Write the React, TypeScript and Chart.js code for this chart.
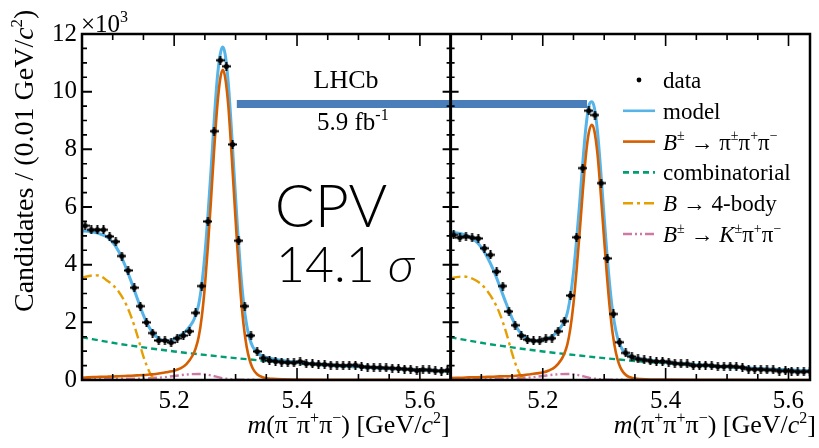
import React, { useEffect, useRef } from "react";
import { Chart, registerables } from "chart.js";

Chart.register(...registerables);

// ---------------- axis / layout constants ----------------
const X_MIN = 5.05;
const X_MAX_LEFT = 5.65;
const X_MAX_RIGHT = 5.635;
const PANEL_SHIFT = X_MAX_LEFT - X_MIN; // right panel drawn after the left one
const Y_MIN = 0;
const Y_MAX = 12;
const Y_LABEL_STEP = 2;
const Y_MINOR_STEP = 0.5;
const X_TICK_LABELS = [5.2, 5.4, 5.6];
const X_MINOR_TICKS = [5.1, 5.15, 5.2, 5.25, 5.3, 5.35, 5.4, 5.45, 5.5, 5.55, 5.6];

// ---------------- data (x 10^3 candidates per 0.01 GeV) ----------------
const BIN_START = 5.055;
const BIN_WIDTH = 0.01;

const DATA_LEFT = [
  5.35, 5.21, 5.21, 5.21, 4.98, 4.8, 4.3, 3.8, 3.2, 2.56,
  2.0, 1.63, 1.37, 1.37, 1.3, 1.45, 1.54, 1.69, 2.33, 3.26,
  5.5, 8.63, 11.09, 10.88, 8.17, 4.83, 2.56, 1.54, 0.99, 0.76,
  0.68, 0.65, 0.62, 0.61, 0.6, 0.64, 0.57, 0.56, 0.55, 0.54,
  0.52, 0.51, 0.5, 0.51, 0.52, 0.47, 0.45, 0.44, 0.43, 0.42,
  0.41, 0.4, 0.38, 0.37, 0.33, 0.36, 0.35, 0.32, 0.31, 0.34,
];

const DATA_RIGHT = [
  5.03, 4.94, 4.98, 4.94, 4.91, 4.57, 4.34, 3.76, 3.26, 2.38,
  1.9, 1.54, 1.4, 1.36, 1.36, 1.43, 1.45, 1.69, 2.04, 2.93,
  4.95, 7.35, 9.34, 9.19, 6.83, 4.22, 2.29, 1.31, 0.94, 0.81,
  0.73, 0.7, 0.66, 0.64, 0.65, 0.62, 0.58, 0.56, 0.56, 0.5,
  0.5, 0.52, 0.5, 0.47, 0.47, 0.48, 0.46, 0.44, 0.38, 0.37,
  0.37, 0.35, 0.35, 0.31, 0.32, 0.31, 0.28, 0.29, 0.3,
];

// model and signal curves, left panel (B- like)
const CURVE_X_LEFT = [
  5.05, 5.06, 5.07, 5.08, 5.09, 5.1, 5.11, 5.12, 5.13, 5.14, 5.15, 5.16, 5.17, 5.18, 5.19,
  5.2, 5.21, 5.22, 5.23, 5.235, 5.24, 5.245, 5.25, 5.255, 5.26, 5.265, 5.27, 5.275, 5.279,
  5.283, 5.288, 5.293, 5.298, 5.303, 5.308, 5.313, 5.318, 5.323, 5.328, 5.335, 5.345,
  5.36, 5.38, 5.4, 5.45, 5.5, 5.55, 5.6, 5.65,
];
const MODEL_LEFT = [
  5.17, 5.16, 5.12, 5.06, 4.97, 4.78, 4.45, 3.98, 3.42, 2.83, 2.25, 1.8, 1.52, 1.38, 1.35,
  1.42, 1.55, 1.72, 2.0, 2.25, 2.63, 3.32, 4.35, 5.72, 7.27, 8.95, 10.42, 11.3, 11.55,
  11.3, 10.33, 8.78, 7.02, 5.32, 3.82, 2.68, 1.91, 1.43, 1.15, 0.95, 0.82,
  0.74, 0.67, 0.62, 0.53, 0.46, 0.4, 0.35, 0.31,
];
const SIGNAL_LEFT = [
  0.08, 0.09, 0.1, 0.11, 0.115, 0.12, 0.13, 0.14, 0.15, 0.16, 0.17, 0.19, 0.21, 0.24, 0.28,
  0.32, 0.4, 0.55, 0.85, 1.1, 1.5, 2.2, 3.25, 4.65, 6.25, 7.95, 9.45, 10.45, 10.76,
  10.5, 9.55, 8.0, 6.25, 4.55, 3.05, 1.92, 1.15, 0.68, 0.4, 0.2, 0.09,
  0.04, 0.02, 0.015, 0.008, 0.005, 0.003, 0.001, 0,
];

// model and signal curves, right panel (B+ like)
const CURVE_X_RIGHT = [
  5.05, 5.06, 5.07, 5.08, 5.09, 5.1, 5.11, 5.12, 5.13, 5.14, 5.15, 5.16, 5.17, 5.18, 5.19,
  5.2, 5.21, 5.22, 5.23, 5.235, 5.24, 5.245, 5.25, 5.255, 5.26, 5.265, 5.27, 5.275, 5.28,
  5.284, 5.289, 5.294, 5.299, 5.304, 5.309, 5.314, 5.319, 5.324, 5.329, 5.336, 5.346,
  5.36, 5.38, 5.4, 5.45, 5.5, 5.55, 5.6, 5.65,
];
const MODEL_RIGHT = [
  5.12, 5.1, 5.06, 4.98, 4.83, 4.6, 4.25, 3.8, 3.25, 2.68, 2.15, 1.74, 1.5, 1.38, 1.35,
  1.38, 1.46, 1.6, 1.85, 2.03, 2.33, 2.9, 3.73, 4.85, 6.12, 7.5, 8.72, 9.5, 9.65,
  9.44, 8.64, 7.36, 5.91, 4.51, 3.28, 2.34, 1.71, 1.31, 1.08, 0.9, 0.79,
  0.73, 0.67, 0.61, 0.53, 0.46, 0.4, 0.35, 0.31,
];
const SIGNAL_RIGHT = [
  0.07, 0.075, 0.08, 0.09, 0.095, 0.1, 0.11, 0.115, 0.125, 0.13, 0.14, 0.155, 0.17, 0.2, 0.23,
  0.26, 0.33, 0.45, 0.7, 0.91, 1.23, 1.8, 2.65, 3.8, 5.1, 6.5, 7.75, 8.58, 8.85,
  8.64, 7.85, 6.58, 5.14, 3.74, 2.51, 1.58, 0.95, 0.56, 0.33, 0.16, 0.07,
  0.03, 0.015, 0.012, 0.007, 0.004, 0.002, 0.001, 0,
];

// combinatorial background (same in both panels)
const COMB_X = [5.05, 5.1, 5.15, 5.2, 5.25, 5.3, 5.35, 5.4, 5.45, 5.5, 5.55, 5.6, 5.65];
const COMB = [1.48, 1.29, 1.13, 0.99, 0.87, 0.76, 0.66, 0.58, 0.5, 0.44, 0.39, 0.34, 0.3];

// partially reconstructed B -> 4-body
const BODY4_X = [5.05, 5.06, 5.07, 5.08, 5.09, 5.1, 5.11, 5.12, 5.13, 5.14, 5.15, 5.155, 5.16, 5.165, 5.17, 5.175];
const BODY4_LEFT = [3.55, 3.6, 3.63, 3.61, 3.46, 3.3, 3.05, 2.7, 2.2, 1.55, 0.81, 0.52, 0.27, 0.09, 0.02, 0];
const BODY4_RIGHT = [3.52, 3.57, 3.59, 3.56, 3.47, 3.32, 3.08, 2.75, 2.3, 1.68, 0.93, 0.6, 0.32, 0.12, 0.03, 0];

// misidentified B -> K pi pi
const KPP_X = [5.05, 5.1, 5.15, 5.18, 5.2, 5.22, 5.24, 5.25, 5.26, 5.27, 5.28, 5.3, 5.32, 5.35];
const KPP = [0.03, 0.04, 0.05, 0.09, 0.14, 0.19, 0.21, 0.2, 0.16, 0.11, 0.06, 0.02, 0.01, 0];

// highlighted band (annotation)
const BAR_X_LEFT = 5.302; // left-panel mass
const BAR_X_RIGHT = 5.272; // right-panel mass
const BAR_Y = 9.57;

// ---------------- styles ----------------
const SERIF = '"Liberation Serif", "Times New Roman", serif';
const SANS = 'Lato, "Open Sans", sans-serif';
const C_MODEL = "#56b4e9";
const C_SIGNAL = "#d55e00";
const C_COMB = "#009e73";
const C_BODY4 = "#e69f00";
const C_KPP = "#cc79a7";
const C_BAR = "#4a7ebb";
const DASH_COMB = [6, 4];
const DASH_BODY4 = [10, 4, 3, 4];
const DASH_KPP = [9, 3, 2, 3, 2, 3];

type Seg = { t: string; it?: boolean; sup?: boolean; dx?: number };

function drawRich(
  ctx: CanvasRenderingContext2D,
  segs: Seg[],
  x: number,
  y: number,
  size: number,
  family: string,
  align: "left" | "right" | "center",
  weight = ""
) {
  const supSize = Math.round(size * 0.62);
  const fontOf = (s: Seg) =>
    `${s.it ? "italic " : ""}${weight ? weight + " " : ""}${s.sup ? supSize : size}px ${family}`;
  let w = 0;
  for (const s of segs) {
    ctx.font = fontOf(s);
    w += ctx.measureText(s.t).width + (s.dx || 0);
  }
  let cx = align === "left" ? x : align === "right" ? x - w : x - w / 2;
  ctx.textAlign = "left";
  ctx.textBaseline = "alphabetic";
  for (const s of segs) {
    ctx.font = fontOf(s);
    cx += s.dx || 0;
    ctx.fillText(s.t, cx, s.sup ? y - size * 0.4 : y);
    cx += ctx.measureText(s.t).width;
  }
}

const LEGEND: { kind: "dot" | "line"; color?: string; dash?: number[]; segs: Seg[] }[] = [
  { kind: "dot", segs: [{ t: "data" }] },
  { kind: "line", color: C_MODEL, dash: [], segs: [{ t: "model" }] },
  {
    kind: "line",
    color: C_SIGNAL,
    dash: [],
    segs: [
      { t: "B", it: true }, { t: "±", sup: true }, { t: " → π" }, { t: "±", sup: true },
      { t: "π" }, { t: "+", sup: true }, { t: "π" }, { t: "−", sup: true },
    ],
  },
  { kind: "line", color: C_COMB, dash: DASH_COMB, segs: [{ t: "combinatorial" }] },
  { kind: "line", color: C_BODY4, dash: DASH_BODY4, segs: [{ t: "B", it: true }, { t: " → 4-body" }] },
  {
    kind: "line",
    color: C_KPP,
    dash: DASH_KPP,
    segs: [
      { t: "B", it: true }, { t: "±", sup: true }, { t: " → " }, { t: "K", it: true },
      { t: "±", sup: true }, { t: "π" }, { t: "+", sup: true }, { t: "π" }, { t: "−", sup: true },
    ],
  },
];

const X_TITLE_LEFT: Seg[] = [
  { t: "m", it: true }, { t: "(π" }, { t: "−", sup: true }, { t: "π" }, { t: "+", sup: true },
  { t: "π" }, { t: "−", sup: true }, { t: ") [GeV/" }, { t: "c", it: true }, { t: "2", sup: true }, { t: "]" },
];
const X_TITLE_RIGHT: Seg[] = [
  { t: "m", it: true }, { t: "(π" }, { t: "+", sup: true }, { t: "π" }, { t: "+", sup: true },
  { t: "π" }, { t: "−", sup: true }, { t: ") [GeV/" }, { t: "c", it: true }, { t: "2", sup: true }, { t: "]" },
];
const Y_TITLE: Seg[] = [
  { t: "Candidates / (0.01 GeV/" }, { t: "c", it: true }, { t: "2", sup: true }, { t: ")" },
];

function pts(xs: number[], ys: number[], shift: number) {
  return xs.map((x, i) => ({ x: x + shift, y: ys[i] }));
}
function binPts(vals: number[], shift: number) {
  return vals.map((v, i) => ({ x: BIN_START + i * BIN_WIDTH + shift, y: v }));
}

function curve(label: string, data: any[], color: string, dash: number[], width: number, order: number) {
  return {
    label,
    data,
    borderColor: color,
    backgroundColor: color,
    borderWidth: width,
    borderDash: dash,
    pointRadius: 0,
    fill: false,
    showLine: true,
    cubicInterpolationMode: "monotone" as const,
    order,
  };
}

export default function App() {
  const ref = useRef<HTMLCanvasElement | null>(null);

  useEffect(() => {
    const canvas = ref.current;
    if (!canvas) return;

    // data marker: dot with small error-bar cross
    const mk = document.createElement("canvas");
    mk.width = 9;
    mk.height = 9;
    const mctx = mk.getContext("2d")!;
    mctx.fillStyle = "#000";
    mctx.fillRect(0, 3.5, 9, 2);
    mctx.fillRect(3.5, 0, 2, 9);
    mctx.beginPath();
    mctx.arc(4.5, 4.5, 2.6, 0, Math.PI * 2);
    mctx.fill();

    const dataSet = (label: string, data: any[]) => ({
      label,
      data,
      showLine: false,
      pointStyle: mk,
      pointRadius: 4.5,
      borderWidth: 0,
      order: 0,
    });

    const overlay = {
      id: "overlay",
      afterDatasetsDraw(chart: any) {
        const { ctx, scales } = chart;
        const xs = scales.x;
        const ys = scales.y;
        ctx.save();
        ctx.strokeStyle = C_BAR;
        ctx.lineWidth = 8;
        ctx.beginPath();
        ctx.moveTo(xs.getPixelForValue(BAR_X_LEFT), ys.getPixelForValue(BAR_Y));
        ctx.lineTo(xs.getPixelForValue(BAR_X_RIGHT + PANEL_SHIFT), ys.getPixelForValue(BAR_Y));
        ctx.stroke();
        ctx.restore();
      },
      afterDraw(chart: any) {
        const { ctx, chartArea: a, scales } = chart;
        const xs = scales.x;
        const ys = scales.y;
        ctx.save();
        ctx.strokeStyle = "#000";
        ctx.fillStyle = "#000";
        // frame
        ctx.lineWidth = 2.5;
        ctx.setLineDash([]);
        ctx.strokeRect(a.left, a.top, a.right - a.left, a.bottom - a.top);
        const mid = xs.getPixelForValue(X_MAX_LEFT);
        ctx.lineWidth = 3;
        ctx.beginPath();
        ctx.moveTo(mid, a.top);
        ctx.lineTo(mid, a.bottom);
        ctx.stroke();

        // x ticks (inward, top and bottom)
        ctx.lineWidth = 1.6;
        for (const shift of [0, PANEL_SHIFT]) {
          for (const t of X_MINOR_TICKS) {
            const px = xs.getPixelForValue(t + shift);
            if (px <= a.left + 1 || px >= a.right - 1) continue;
            const major = X_TICK_LABELS.some((v) => Math.abs(v - t) < 1e-6);
            const len = major ? 12 : 6;
            ctx.beginPath();
            ctx.moveTo(px, a.bottom);
            ctx.lineTo(px, a.bottom - len);
            ctx.moveTo(px, a.top);
            ctx.lineTo(px, a.top + len);
            ctx.stroke();
          }
        }
        // y ticks
        for (let v = Y_MIN + Y_MINOR_STEP; v < Y_MAX - 1e-6; v += Y_MINOR_STEP) {
          const py = ys.getPixelForValue(v);
          const major = Math.abs(v / Y_LABEL_STEP - Math.round(v / Y_LABEL_STEP)) < 1e-6;
          ctx.lineWidth = major ? 2 : 1.6;
          const len = major ? 10 : 5;
          const mlen = major ? 8 : 4;
          ctx.beginPath();
          ctx.moveTo(a.left, py);
          ctx.lineTo(a.left + len, py);
          ctx.moveTo(mid - mlen, py);
          ctx.lineTo(mid + mlen, py);
          ctx.stroke();
        }

        // axis titles
        drawRich(ctx, X_TITLE_LEFT, mid - 1, 433, 26, SERIF, "right");
        drawRich(ctx, X_TITLE_RIGHT, 816, 433, 26, SERIF, "right");
        ctx.save();
        ctx.translate(33, 312);
        ctx.rotate(-Math.PI / 2);
        drawRich(ctx, Y_TITLE, 0, 0, 28, SERIF, "left");
        ctx.restore();
        drawRich(ctx, [{ t: "×10" }, { t: "3", sup: true }], a.left - 1, 32, 25, SERIF, "left");

        // labels
        drawRich(ctx, [{ t: "LHCb" }], 346, 88, 26, SERIF, "center");
        drawRich(ctx, [{ t: "5.9 fb" }, { t: "-1", sup: true }], 317, 130, 25, SERIF, "left");
        drawRich(ctx, [{ t: "CPV" }], 331, 227, 59, SANS, "center", "300");
        drawRich(ctx, [{ t: "14.1" }, { t: "σ", it: true, dx: 13 }], 276, 282, 50, SANS, "left", "300");

        // legend
        const lx0 = 623;
        const lx1 = 655;
        const tx = 663;
        const base0 = 88;
        const dy = 30.8;
        LEGEND.forEach((e, i) => {
          const by = base0 + i * dy;
          const ly = by - 8;
          if (e.kind === "dot") {
            ctx.beginPath();
            ctx.arc((lx0 + lx1) / 2, ly, 2.4, 0, Math.PI * 2);
            ctx.fill();
          } else {
            ctx.save();
            ctx.strokeStyle = e.color!;
            ctx.lineWidth = 2.6;
            ctx.setLineDash(e.dash || []);
            ctx.beginPath();
            ctx.moveTo(lx0, ly);
            ctx.lineTo(lx1, ly);
            ctx.stroke();
            ctx.restore();
          }
          drawRich(ctx, e.segs, tx, by, 23, SERIF, "left");
        });
        ctx.restore();
      },
    };

    const chart = new Chart(canvas, {
      type: "line",
      data: {
        datasets: [
          dataSet("data B-", binPts(DATA_LEFT, 0)),
          dataSet("data B+", binPts(DATA_RIGHT, PANEL_SHIFT)),
          curve("signal B-", pts(CURVE_X_LEFT, SIGNAL_LEFT, 0), C_SIGNAL, [], 2.6, 1),
          curve("signal B+", pts(CURVE_X_RIGHT, SIGNAL_RIGHT, PANEL_SHIFT), C_SIGNAL, [], 2.6, 1),
          curve("model B-", pts(CURVE_X_LEFT, MODEL_LEFT, 0), C_MODEL, [], 3, 2),
          curve("model B+", pts(CURVE_X_RIGHT, MODEL_RIGHT, PANEL_SHIFT), C_MODEL, [], 3, 2),
          curve("comb B-", pts(COMB_X, COMB, 0), C_COMB, DASH_COMB, 2.4, 3),
          curve("comb B+", pts(COMB_X, COMB, PANEL_SHIFT), C_COMB, DASH_COMB, 2.4, 3),
          curve("4body B-", pts(BODY4_X, BODY4_LEFT, 0), C_BODY4, DASH_BODY4, 2.4, 4),
          curve("4body B+", pts(BODY4_X, BODY4_RIGHT, PANEL_SHIFT), C_BODY4, DASH_BODY4, 2.4, 4),
          curve("Kpp B-", pts(KPP_X, KPP, 0), C_KPP, DASH_KPP, 2.4, 5),
          curve("Kpp B+", pts(KPP_X, KPP, PANEL_SHIFT), C_KPP, DASH_KPP, 2.4, 5),
        ] as any,
      },
      options: {
        responsive: false,
        animation: false,
        events: [],
        devicePixelRatio: 1,
        layout: { padding: { left: 0, top: 34, right: 9, bottom: 0 } },
        plugins: { legend: { display: false }, tooltip: { enabled: false } },
        scales: {
          x: {
            type: "linear",
            min: X_MIN,
            max: X_MAX_RIGHT + PANEL_SHIFT,
            grid: { display: false, drawTicks: false, tickLength: 0 },
            border: { display: false },
            afterBuildTicks: (scale: any) => {
              scale.ticks = [
                ...X_TICK_LABELS.map((v) => ({ value: v })),
                ...X_TICK_LABELS.map((v) => ({ value: v + PANEL_SHIFT })),
              ];
            },
            afterFit: (scale: any) => {
              scale.height = 68;
            },
            ticks: {
              autoSkip: false,
              maxRotation: 0,
              padding: 6,
              color: "#000",
              font: { family: SERIF, size: 25 },
              callback: (value: any) => {
                const v = Number(value);
                const m = v >= X_MAX_LEFT - 1e-6 ? v - PANEL_SHIFT : v;
                return m.toFixed(1);
              },
            },
          },
          y: {
            type: "linear",
            min: Y_MIN,
            max: Y_MAX,
            grid: { display: false, drawTicks: false, tickLength: 0 },
            border: { display: false },
            afterFit: (scale: any) => {
              scale.width = 82;
            },
            ticks: {
              stepSize: Y_LABEL_STEP,
              padding: 5,
              color: "#000",
              font: { family: SERIF, size: 25 },
            },
          },
        },
      } as any,
      plugins: [overlay],
    });

    return () => chart.destroy();
  }, []);

  return (
    <div style={{ position: "absolute", left: 0, top: 0, width: 819, height: 448, background: "#fff" }}>
      <canvas ref={ref} width={819} height={448} style={{ display: "block", width: 819, height: 448 }} />
    </div>
  );
}
